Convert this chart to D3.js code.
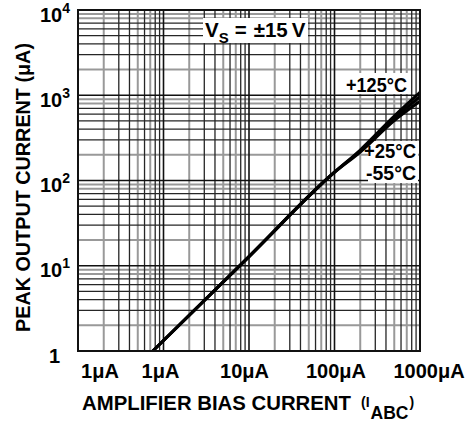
<!DOCTYPE html>
<html>
<head>
<meta charset="utf-8">
<script src="https://cdn.jsdelivr.net/npm/d3@7"></script>
<style>
  body { margin: 0; background: #fff; }
  text { font-family: "Liberation Sans", Arial, sans-serif; font-weight: bold; fill: #000; }
</style>
</head>
<body>
<svg width="471" height="425"></svg>
<script>
// amplifier bias current (uA) and peak output current (uA)
const biasCurrent = [0.75, 10, 100, 200, 500, 1000];
const peak125 = [1, 12.8, 125, 228, 570, 1080];
const peak25 = [1, 12.8, 125, 222, 535, 960];
const peakM55 = [1, 12.8, 125, 216, 505, 850];

const xTickVals = [0.1, 1, 10, 100, 1000];
const xTickLabels = ["1\u03bcA", "1\u03bcA", "10\u03bcA", "100\u03bcA", "1000\u03bcA"];
const yTickVals = [1, 10, 100, 1000, 10000];
const yTickExp = [null, "1", "2", "3", "4"];

const svg = d3.select("svg");
const plotL = 78, plotR = 420, plotT = 10, plotB = 351;

const x = d3.scaleLog().domain([0.1, 1000]).range([plotL, plotR]);
const y = d3.scaleLog().domain([1, 10000]).range([plotB, plotT]);

// grid colour per mantissa digit (scanned look: some light, some dark)
const vGray = { 2: true, 5: true, 7: true };
const hGray = { 2: true, 8: true, 9: true };
const digit = v => Math.round(v / Math.pow(10, Math.floor(Math.log10(v) + 1e-9)));

const grid = svg.append("g");
const xt = x.ticks(), yt = y.ticks();

function drawGrid(isGray) {
    grid.selectAll(null)
        .data(xt.filter(v => digit(v) !== 1 && !!vGray[digit(v)] === isGray))
        .enter().append("line")
        .attr("x1", d => x(d)).attr("x2", d => x(d))
        .attr("y1", plotT).attr("y2", plotB)
        .attr("stroke", isGray ? "#999" : "#262626")
        .attr("stroke-width", isGray ? 2 : 1.3);
    grid.selectAll(null)
        .data(yt.filter(v => digit(v) !== 1 && !!hGray[digit(v)] === isGray))
        .enter().append("line")
        .attr("y1", d => y(d)).attr("y2", d => y(d))
        .attr("x1", plotL).attr("x2", plotR)
        .attr("stroke", isGray ? "#999" : "#262626")
        .attr("stroke-width", isGray ? 2 : 1.3);
}
drawGrid(true);
drawGrid(false);

grid.selectAll(null)
    .data(xt.filter(v => digit(v) === 1))
    .enter().append("line")
    .attr("x1", d => x(d)).attr("x2", d => x(d))
    .attr("y1", plotT).attr("y2", plotB)
    .attr("stroke", "#111").attr("stroke-width", 1.6);
grid.selectAll(null)
    .data(yt.filter(v => digit(v) === 1))
    .enter().append("line")
    .attr("y1", d => y(d)).attr("y2", d => y(d))
    .attr("x1", plotL).attr("x2", plotR)
    .attr("stroke", "#111").attr("stroke-width", 1.6);

// white label boxes
svg.append("rect").attr("x", 203).attr("y", 18).attr("width", 105).attr("height", 25).attr("fill", "#fff");
svg.append("rect").attr("x", 344).attr("y", 73).attr("width", 64).attr("height", 21).attr("fill", "#fff");
svg.append("rect").attr("x", 368).attr("y", 141).attr("width", 50).attr("height", 42).attr("fill", "#fff");

// curves
const line = d3.line()
    .x((d, i) => x(biasCurrent[i]))
    .y(d => y(d))
    .curve(d3.curveMonotoneX);

[peakM55, peak25, peak125].forEach(s => {
    svg.append("path")
        .attr("d", line(s))
        .attr("fill", "none")
        .attr("stroke", "#000")
        .attr("stroke-width", 3);
});

// border
svg.append("rect")
    .attr("x", plotL).attr("y", plotT)
    .attr("width", plotR - plotL).attr("height", plotB - plotT)
    .attr("fill", "none").attr("stroke", "#111").attr("stroke-width", 2);

// x axis labels
const xShift = [21.5, -3.5, -5, 1, 8.5];
const xAxis = svg.append("g")
    .attr("transform", `translate(0,${plotB})`)
    .call(d3.axisBottom(x).tickValues(xTickVals)
        .tickFormat((d, i) => xTickLabels[i]).tickSize(0));
xAxis.select(".domain").remove();
xAxis.selectAll("text")
    .attr("y", 27).attr("dy", 0)
    .attr("dx", (d, i) => xShift[i])
    .style("font-size", "20px")
    .style("font-family", "'Liberation Sans', Arial, sans-serif")
    .style("font-weight", "bold")
    .attr("fill", "#000");

// y axis labels
const yAxis = svg.append("g")
    .attr("transform", `translate(${plotL},0)`)
    .call(d3.axisLeft(y).tickValues(yTickVals).tickFormat("").tickSize(0).tickPadding(8));
yAxis.select(".domain").remove();
yAxis.selectAll("text")
    .attr("dy", 0).attr("y", 11)
    .attr("dx", (d, i) => yTickExp[i] ? 0 : -10)
    .style("font-size", "20px")
    .style("font-family", "'Liberation Sans', Arial, sans-serif")
    .style("font-weight", "bold")
    .attr("fill", "#000")
    .each(function (d, i) {
        const t = d3.select(this);
        if (yTickExp[i]) {
            t.append("tspan").text("10");
            t.append("tspan").attr("dy", -9).style("font-size", "14px").text(yTickExp[i]);
        } else {
            t.append("tspan").text("1");
        }
    });

// axis titles
svg.append("text")
    .attr("x", 82).attr("y", 410)
    .attr("textLength", 269).attr("lengthAdjust", "spacingAndGlyphs")
    .style("font-size", "20.5px")
    .text("AMPLIFIER BIAS CURRENT");
const iabc = svg.append("text").attr("x", 361).attr("y", 407).style("font-size", "14px");
iabc.append("tspan").text("(I");
iabc.append("tspan").attr("dx", 1).attr("dy", 12).style("font-size", "17.5px").text("ABC");
iabc.append("tspan").attr("dx", 1).attr("dy", -12).text(")");

svg.append("text")
    .attr("transform", "translate(30,332) rotate(-90)")
    .attr("textLength", 289).attr("lengthAdjust", "spacingAndGlyphs")
    .style("font-size", "20.5px")
    .text("PEAK OUTPUT CURRENT (\u03bcA)");

// annotations
const vs = svg.append("text").attr("x", 205).attr("y", 36.5).style("font-size", "20.5px");
vs.append("tspan").text("V");
vs.append("tspan").attr("dy", 6).style("font-size", "15px").text("S");
vs.append("tspan").attr("dx", 6).attr("dy", -6).text("=");
vs.append("tspan").attr("dx", 7).text("\u00b115");
vs.append("tspan").attr("dx", 4).text("V");

svg.append("text").attr("x", 346).attr("y", 92).style("font-size", "21px")
    .attr("textLength", 61).attr("lengthAdjust", "spacingAndGlyphs").text("+125\u00b0C");
svg.append("text").attr("x", 364).attr("y", 158).style("font-size", "21px")
    .attr("textLength", 52).attr("lengthAdjust", "spacingAndGlyphs").text("+25\u00b0C");
svg.append("text").attr("x", 366).attr("y", 180).style("font-size", "21px")
    .attr("textLength", 50).attr("lengthAdjust", "spacingAndGlyphs").text("-55\u00b0C");
</script>
</body>
</html>
